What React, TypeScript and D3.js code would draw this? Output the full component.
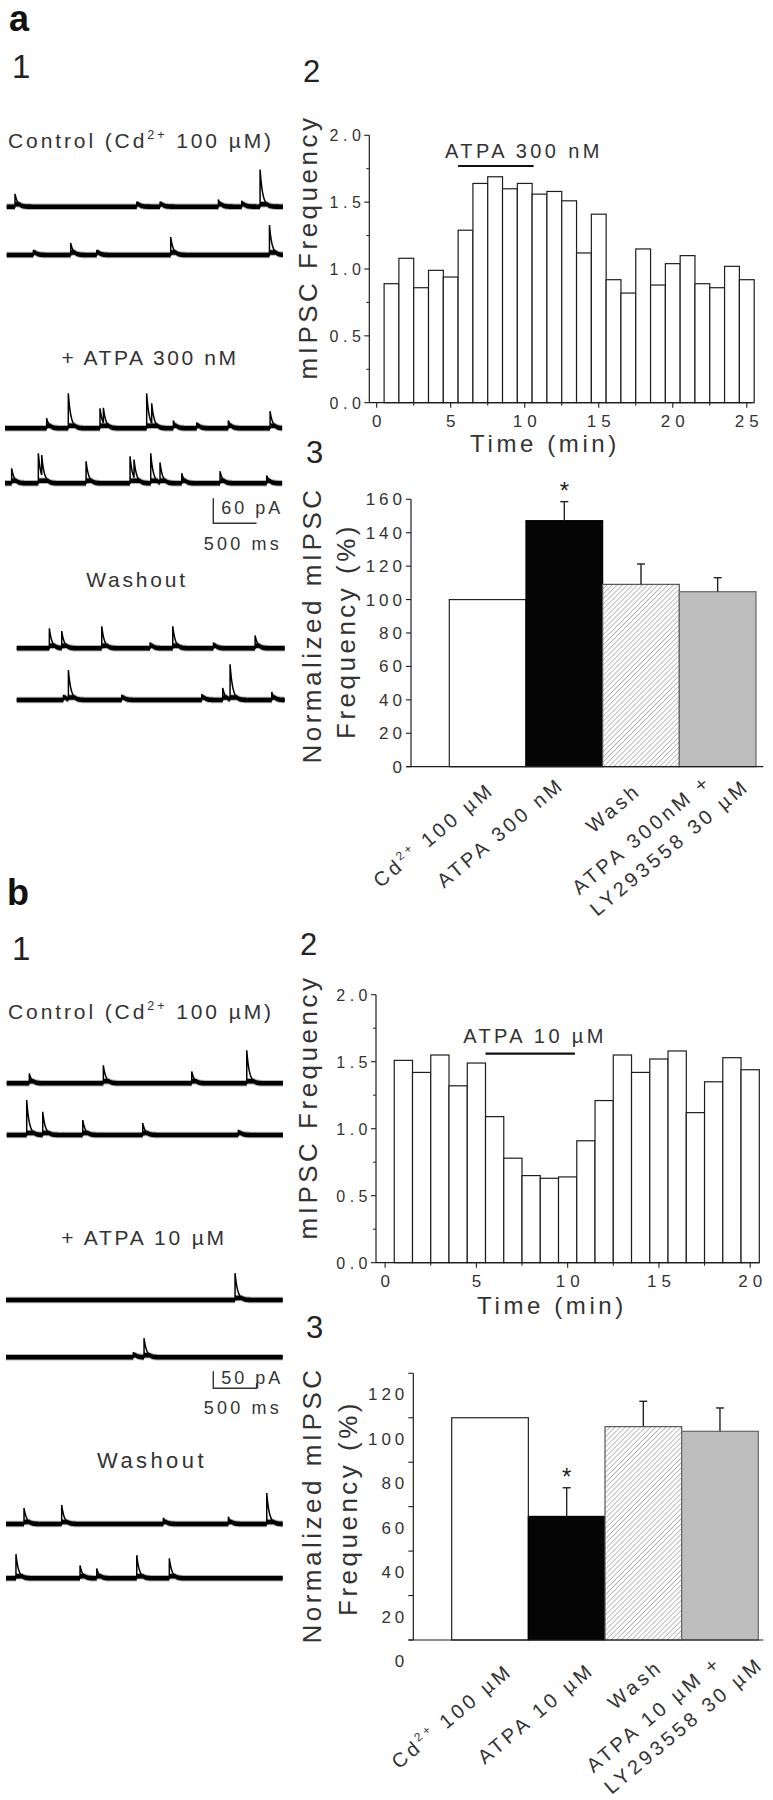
import React, { useEffect, useRef } from 'react';
import * as d3 from 'd3';

// ---------------- data ----------------
const minutesA = [1, 2, 3, 4, 5, 6, 7, 8, 9, 10, 11, 12, 13, 14, 15, 16, 17, 18, 19, 20, 21, 22, 23, 24, 25];
const freqA = [0.89, 1.08, 0.86, 0.99, 0.94, 1.29, 1.64, 1.69, 1.6, 1.64, 1.56, 1.58, 1.51, 1.12, 1.41, 0.92, 0.82, 1.15, 0.88, 1.04, 1.1, 0.89, 0.86, 1.02, 0.92];
const minutesB = [1, 2, 3, 4, 5, 6, 7, 8, 9, 10, 11, 12, 13, 14, 15, 16, 17, 18, 19, 20];
const freqB = [1.51, 1.42, 1.55, 1.32, 1.49, 1.09, 0.78, 0.65, 0.63, 0.64, 0.91, 1.21, 1.55, 1.42, 1.52, 1.58, 1.12, 1.35, 1.53, 1.44];
const freqTicks = [0, 0.5, 1.0, 1.5, 2.0];
const freqMinorTicks = [0.25, 0.75, 1.25, 1.75];
const timeTicksA = [0, 5, 10, 15, 20, 25];
const timeMinorA = [2.5, 7.5, 12.5, 17.5, 22.5];
const timeTicksB = [0, 5, 10, 15, 20];
const timeMinorB = [2.5, 7.5, 12.5, 17.5];
const drugA = [5.5, 10.6];
const drugB = [5.5, 10.4];

const conditions = ['control', 'agonist', 'wash', 'antagonist'];
const normA = [100, 147.2, 109.1, 104.7];
const semA = [0, 11.4, 12.2, 8.4];
const normB = [100, 55.6, 96.0, 93.9];
const semB = [0, 12.9, 11.4, 10.5];
const signif = [false, true, false, false];
const normTicksA = [0, 20, 40, 60, 80, 100, 120, 140, 160];
const normTicksB = [0, 20, 40, 60, 80, 100, 120];
const condLabelsA = [['Cd^2+^ 100 µM'], ['ATPA 300 nM'], ['Wash'], ['ATPA 300nM +', 'LY293558 30 µM']];
const condLabelsB = [['Cd^2+^  100 µM'], ['ATPA 10 µM'], ['Wash'], ['ATPA 10 µM +', 'LY293558 30 µM']];

// sample traces: [time (ms), amplitude (pA)] of each mIPSC
const traceA1 = [[96, 31], [1502, 12], [1771, 12], [2445, 17], [2714, 14], [2926, 89]];
const traceA2 = [[308, 12], [739, 29], [1040, 12], [1894, 43], [3034, 72]];
const traceA3 = [[481, 24], [731, 84], [1097, 48], [1136, 36], [1636, 84], [1694, 48], [1944, 19], [2214, 14], [2579, 19], [3061, 41]];
const traceA4 = [[77, 36], [385, 72], [424, 48], [936, 53], [1444, 65], [1490, 43], [1683, 72], [1790, 48], [2041, 24], [2483, 29], [3022, 19]];
const traceA5 = [[377, 48], [520, 41], [982, 53], [1540, 14], [1802, 53], [2272, 14], [2753, 31]];
const traceA6 = [[539, 12], [597, 70], [1213, 12], [2137, 14], [2379, 29], [2464, 84], [2945, 19]];
const traceB1 = [[261, 29], [1116, 53], [2137, 35], [2772, 97]];
const traceB2 = [[231, 103], [416, 68], [878, 44], [1571, 35], [2675, 15]];
const traceB3 = [[2645, 79]];
const traceB4 = [[1470, 15], [1594, 56]];
const traceB5 = [[208, 47], [643, 56], [1817, 18], [2568, 21], [3011, 91]];
const traceB6 = [[115, 71], [855, 38], [1048, 29], [1510, 68], [1886, 59]];

// ---------------- style / layout ----------------
const FONT = "'Liberation Sans', Arial, Helvetica, sans-serif";
const INK = '#1e1e1e';
const TXT = '#333';

type Sel = d3.Selection<any, any, any, any>;

function rich(text: Sel, str: string, fs: number) {
  const parts = str.split('^');
  let shifted = false;
  parts.forEach((p, i) => {
    if (!p) return;
    const sup = i % 2 === 1;
    const t = text.append('tspan').text(p);
    if (sup) {
      t.attr('font-size', fs * 0.6).attr('dy', -fs * 0.42);
      shifted = true;
    } else if (shifted) {
      t.attr('dy', fs * 0.42);
      shifted = false;
    }
  });
}

function label(g: Sel, str: string, x: number, y: number, fs: number, opts: any = {}) {
  const t = g
    .append('text')
    .attr('x', x)
    .attr('y', y)
    .attr('font-family', FONT)
    .attr('font-size', fs)
    .attr('fill', opts.fill || TXT)
    .attr('letter-spacing', opts.ls ?? 0)
    .attr('text-anchor', opts.anchor || 'start');
  if (opts.weight) t.attr('font-weight', opts.weight);
  if (opts.transform) t.attr('transform', opts.transform);
  rich(t, str, fs);
  return t;
}

function drawTrace(g: Sel, events: number[][], cfg: any) {
  const xs = d3.scaleLinear().domain([0, 500]).range([cfg.x0, cfg.x0 + cfg.barPx]);
  const ys = d3.scaleLinear().domain([0, cfg.barPA]).range([cfg.y, cfg.y - cfg.barPxV]);
  const TAU = 30;
  const pts: [number, number][] = [];
  const times = new Set<number>();
  for (let t = 0; t <= cfg.dur; t += 1) times.add(t);
  events.forEach((e) => {
    times.add(e[0] - 0.01);
    times.add(e[0]);
  });
  Array.from(times)
    .sort((a, b) => a - b)
    .forEach((t) => {
      let v = 0;
      for (const [t0, a] of events) if (t >= t0) v += a * Math.exp(-(t - t0) / TAU);
      pts.push([t, v]);
    });
  // noise band rides on the slow part of the signal only
  const slow = (v: number) => Math.min(v, 6);
  const halo = d3
    .area<[number, number]>()
    .x((d) => xs(d[0]))
    .y0((d) => ys(slow(d[1])) + 3.3)
    .y1((d) => ys(slow(d[1])) - 3.3);
  const band = d3
    .area<[number, number]>()
    .x((d) => xs(d[0]))
    .y0((d) => ys(slow(d[1])) + 2.3)
    .y1((d) => ys(slow(d[1])) - 2.3);
  const line = d3
    .line<[number, number]>()
    .x((d) => xs(d[0]))
    .y((d) => ys(d[1]));
  g.append('path').attr('d', halo(pts)).attr('fill', '#000').attr('opacity', 0.3);
  g.append('path').attr('d', band(pts)).attr('fill', '#000');
  g.append('path').attr('d', line(pts)).attr('fill', 'none').attr('stroke', '#000').attr('stroke-width', 1.5);
}

function drawScaleBar(g: Sel, cfg: any, pA: string, tick: boolean) {
  const x = cfg.sbX;
  const y = cfg.sbY;
  g.append('path')
    .attr('d', `M${x},${y - cfg.barPxV}V${y}H${x + cfg.barPx}` + (tick ? `V${y - 5}` : ''))
    .attr('fill', 'none')
    .attr('stroke', '#333')
    .attr('stroke-width', 1.4);
  label(g, pA, x + 8, cfg.sbTextY1, 18, { ls: 3 });
  label(g, '500 ms', 282, cfg.sbTextY2, 18, { ls: 3.2, anchor: 'end' });
}

function drawHist(svg: Sel, L: any, minutes: number[], values: number[], xTicks: number[], xMinor: number[], drug: number[], drugText: string) {
  const g = svg.append('g');
  const x = d3.scaleLinear().domain(L.xDomain).range([L.left, L.right]);
  const y = d3.scaleLinear().domain([0, 2]).range([L.bottom, L.top]);
  g.selectAll('rect.bar')
    .data(minutes)
    .join('rect')
    .attr('x', (m) => x(m - 0.5))
    .attr('width', x(1) - x(0))
    .attr('y', (m, i) => y(values[i]))
    .attr('height', (m, i) => y(0) - y(values[i]))
    .attr('fill', '#fff')
    .attr('stroke', INK)
    .attr('stroke-width', 1.2);
  g.append('line').attr('x1', L.left).attr('x2', L.left).attr('y1', y(0)).attr('y2', y(2)).attr('stroke', INK).attr('stroke-width', 1.2);
  g.append('line').attr('x1', L.left).attr('x2', L.right).attr('y1', y(0)).attr('y2', y(0)).attr('stroke', INK).attr('stroke-width', 1.2);
  freqTicks.forEach((v) => {
    g.append('line').attr('x1', L.left - 5).attr('x2', L.left).attr('y1', y(v)).attr('y2', y(v)).attr('stroke', INK).attr('stroke-width', 1.1);
    label(g, v.toFixed(1), L.left - 4, y(v) + 6, 16, { ls: 4.5, anchor: 'end' });
  });
  freqMinorTicks.forEach((v) => {
    g.append('line').attr('x1', L.left - 3).attr('x2', L.left).attr('y1', y(v)).attr('y2', y(v)).attr('stroke', INK).attr('stroke-width', 1);
  });
  xTicks.forEach((v) => {
    g.append('line').attr('x1', x(v)).attr('x2', x(v)).attr('y1', y(0)).attr('y2', y(0) + 5).attr('stroke', INK).attr('stroke-width', 1.1);
    label(g, String(v), x(v) + 2.5, y(0) + 24, 17, { ls: 5, anchor: 'middle' });
  });
  xMinor.forEach((v) => {
    g.append('line').attr('x1', x(v)).attr('x2', x(v)).attr('y1', y(0)).attr('y2', y(0) + 3).attr('stroke', INK).attr('stroke-width', 1);
  });
  // drug application bar
  g.append('line').attr('x1', x(drug[0])).attr('x2', x(drug[1])).attr('y1', L.drugLineY).attr('y2', L.drugLineY).attr('stroke', '#111').attr('stroke-width', 2.2);
  label(g, drugText, L.drugTextX, L.drugTextY, 20, { ls: 3.4, anchor: 'middle' });
  // titles
  label(g, 'Time (min)', L.titleX, L.titleY, 24, { ls: 3.6, anchor: 'middle' });
  label(g, 'mIPSC Frequency', 0, 0, 26, { ls: 3.5, anchor: 'middle', transform: `translate(${L.ylabX},${L.ylabY}) rotate(-90)` });
}

function drawBars(svg: Sel, L: any, values: number[], sems: number[], ticks: number[], labels: string[][]) {
  const g = svg.append('g');
  const x = d3.scaleBand().domain(conditions).range([L.barLeft, L.barRight]).padding(0);
  const y = d3.scaleLinear().domain([0, L.yMax]).range([L.bottom, L.top]);
  const fills = ['#ffffff', '#050505', 'url(#hatch)', '#bdbdbd'];
  const strokes = ['#222', '#000', '#555', '#666'];
  g.selectAll('rect.cond')
    .data(conditions)
    .join('rect')
    .attr('x', (c) => x(c)!)
    .attr('width', x.bandwidth())
    .attr('y', (c, i) => y(values[i]))
    .attr('height', (c, i) => y(0) - y(values[i]))
    .attr('fill', (c, i) => fills[i])
    .attr('stroke', (c, i) => strokes[i])
    .attr('stroke-width', 1.2);
  // error bars
  conditions.forEach((c, i) => {
    if (!sems[i]) return;
    const cx = x(c)! + x.bandwidth() / 2;
    const top = y(values[i] + sems[i]);
    g.append('line').attr('x1', cx).attr('x2', cx).attr('y1', y(values[i])).attr('y2', top).attr('stroke', '#222').attr('stroke-width', 1.4);
    g.append('line').attr('x1', cx - 4).attr('x2', cx + 4).attr('y1', top).attr('y2', top).attr('stroke', '#222').attr('stroke-width', 1.4);
    if (signif[i]) label(g, '*', cx, top - 3, 24, { anchor: 'middle', fill: '#222' });
  });
  // axes
  g.append('line').attr('x1', L.yAxisX).attr('x2', L.yAxisX).attr('y1', y(0)).attr('y2', y(L.yMax)).attr('stroke', INK).attr('stroke-width', 1.2);
  g.append('line').attr('x1', L.xStart).attr('x2', L.right).attr('y1', y(0)).attr('y2', y(0)).attr('stroke', INK).attr('stroke-width', 1.2);
  ticks.forEach((v) => {
    g.append('line').attr('x1', L.yAxisX - 5).attr('x2', L.yAxisX).attr('y1', y(v)).attr('y2', y(v)).attr('stroke', INK).attr('stroke-width', 1.1);
    label(g, String(v), L.yAxisX - 5, y(v) + 6 + L.labelShift, 17, { ls: 4, anchor: 'end' });
  });
  // category labels (rotated)
  conditions.forEach((c, i) => {
    const cx = x(c)! + x.bandwidth() / 2 + L.labOff[i][0];
    const cy = y(0) + L.labOff[i][1];
    const gg = g.append('g').attr('transform', `translate(${cx},${cy}) rotate(-40)`);
    const t1 = label(gg, labels[i][0], 0, 0, 20, { ls: 3.5, anchor: 'end' });
    if (labels[i].length > 1) {
      const len = (t1.node() as SVGTextElement).getComputedTextLength();
      label(gg, labels[i][1], -len, 28, 20, { ls: 3.5, anchor: 'start' });
    }
  });
  label(g, 'Normalized mIPSC', 0, 0, 26, { ls: 3.5, anchor: 'middle', transform: `translate(${L.yl1X},${L.yl1Y}) rotate(-90)` });
  label(g, 'Frequency (%)', 0, 0, 26, { ls: 3.5, anchor: 'middle', transform: `translate(${L.yl2X},${L.yl2Y}) rotate(-90)` });
}

function draw(el: SVGSVGElement) {
  const svg = d3.select(el);
  svg.selectAll('*').remove();
  const defs = svg.append('defs');
  const pat = defs
    .append('pattern')
    .attr('id', 'hatch')
    .attr('patternUnits', 'userSpaceOnUse')
    .attr('width', 3.6)
    .attr('height', 3.6)
    .attr('patternTransform', 'rotate(45)');
  pat.append('rect').attr('width', 3.6).attr('height', 3.6).attr('fill', '#fff');
  pat.append('line').attr('x1', 0).attr('y1', 0).attr('x2', 0).attr('y2', 3.6).attr('stroke', '#6e6e6e').attr('stroke-width', 0.9);

  const g = svg.append('g');

  // ----- panel letters / numbers -----
  label(g, 'a', 9, 31, 36, { weight: 'bold', fill: '#111' });
  label(g, '1', 12, 78, 33, { fill: '#222' });
  label(g, '2', 303, 82, 31, { fill: '#222' });
  label(g, '3', 306, 463, 31, { fill: '#222' });
  label(g, 'b', 7, 905, 36, { weight: 'bold', fill: '#111' });
  label(g, '1', 12, 960, 33, { fill: '#222' });
  label(g, '2', 300, 955, 31, { fill: '#222' });
  label(g, '3', 306, 1338, 31, { fill: '#222' });

  // ----- traces panel a -----
  label(g, 'Control (Cd^2+^ 100 µM)', 8, 148, 21, { ls: 2.9 });
  label(g, '+ ATPA 300 nM', 150, 365, 21, { ls: 2.6, anchor: 'middle' });
  label(g, 'Washout', 137, 587, 21, { ls: 2.8, anchor: 'middle' });
  const ta = { barPx: 43.3, barPA: 60, barPxV: 25 };
  const tracesA = [traceA1, traceA2, traceA3, traceA4, traceA5, traceA6];
  const posA = [
    { x0: 6.7, y: 206.7, dur: 3190 },
    { x0: 6.7, y: 255, dur: 3190 },
    { x0: 5, y: 428.3, dur: 3200 },
    { x0: 5, y: 483.3, dur: 3200 },
    { x0: 16.7, y: 648.3, dur: 3095 },
    { x0: 16.7, y: 700, dur: 3095 },
  ];
  tracesA.forEach((ev, i) => drawTrace(g, ev, { ...ta, ...posA[i] }));
  drawScaleBar(g, { ...ta, sbX: 213.3, sbY: 523.3, sbTextY1: 514, sbTextY2: 550 }, '60 pA', false);

  // ----- traces panel b -----
  label(g, 'Control (Cd^2+^ 100 µM)', 8, 1019, 21, { ls: 2.9 });
  label(g, '+ ATPA 10 µM', 144, 1245, 21, { ls: 2.8, anchor: 'middle' });
  label(g, 'Washout', 152, 1468, 22, { ls: 3.4, anchor: 'middle' });
  const tb = { barPx: 43.3, barPA: 50, barPxV: 17 };
  const tracesB = [traceB1, traceB2, traceB3, traceB4, traceB5, traceB6];
  const posB = [
    { x0: 6.7, y: 1083.3, dur: 3190 },
    { x0: 6.7, y: 1135, dur: 3190 },
    { x0: 6, y: 1300, dur: 3195 },
    { x0: 6, y: 1357.3, dur: 3195 },
    { x0: 6, y: 1524, dur: 3195 },
    { x0: 6, y: 1578.3, dur: 3195 },
  ];
  tracesB.forEach((ev, i) => drawTrace(g, ev, { ...tb, ...posB[i] }));
  drawScaleBar(g, { ...tb, sbX: 213.3, sbY: 1388.3, sbTextY1: 1384, sbTextY2: 1414 }, '50 pA', true);

  // ----- histograms -----
  drawHist(
    g,
    { left: 369.3, right: 752.7, top: 135.3, bottom: 402.7, xDomain: [-0.5, 25.4], drugLineY: 166, drugTextX: 524, drugTextY: 158.3, titleX: 545, titleY: 452, ylabX: 317, ylabY: 247 },
    minutesA, freqA, timeTicksA, timeMinorA, drugA, 'ATPA 300 nM'
  );
  drawHist(
    g,
    { left: 376, right: 759.3, top: 994.7, bottom: 1262.7, xDomain: [-0.5, 20.5], drugLineY: 1053.7, drugTextX: 535, drugTextY: 1043, titleX: 552, titleY: 1314, ylabX: 317, ylabY: 1107 },
    minutesB, freqB, timeTicksB, timeMinorB, drugB, 'ATPA 10 µM'
  );

  // ----- normalized bar charts -----
  drawBars(
    g,
    {
      yAxisX: 411, xStart: 406.7, barLeft: 449.3, barRight: 756, right: 763.3, top: 499.3, bottom: 766.7, yMax: 160, labelShift: 0,
      labOff: [[8, 25], [1.5, 20], [1.5, 26], [-5, 17]],
      yl1X: 321, yl1Y: 625, yl2X: 355, yl2Y: 631,
    },
    normA, semA, normTicksA, condLabelsA
  );
  drawBars(
    g,
    {
      yAxisX: 413.3, xStart: 408.3, barLeft: 451.7, barRight: 758.3, right: 763.3, top: 1373.3, bottom: 1640, yMax: 120, labelShift: 21,
      labOff: [[24, 33], [29, 32], [21, 29], [3, 25]],
      yl1X: 321, yl1Y: 1505, yl2X: 357, yl2Y: 1508,
    },
    normB, semB, normTicksB, condLabelsB
  );
}

export default function App() {
  const ref = useRef<SVGSVGElement>(null);
  useEffect(() => {
    if (ref.current) draw(ref.current);
  }, []);
  return (
    <svg
      ref={ref}
      width={773}
      height={1800}
      viewBox="0 0 773 1800"
      style={{ position: 'absolute', left: 0, top: 0, background: '#fff', display: 'block' }}
    />
  );
}
